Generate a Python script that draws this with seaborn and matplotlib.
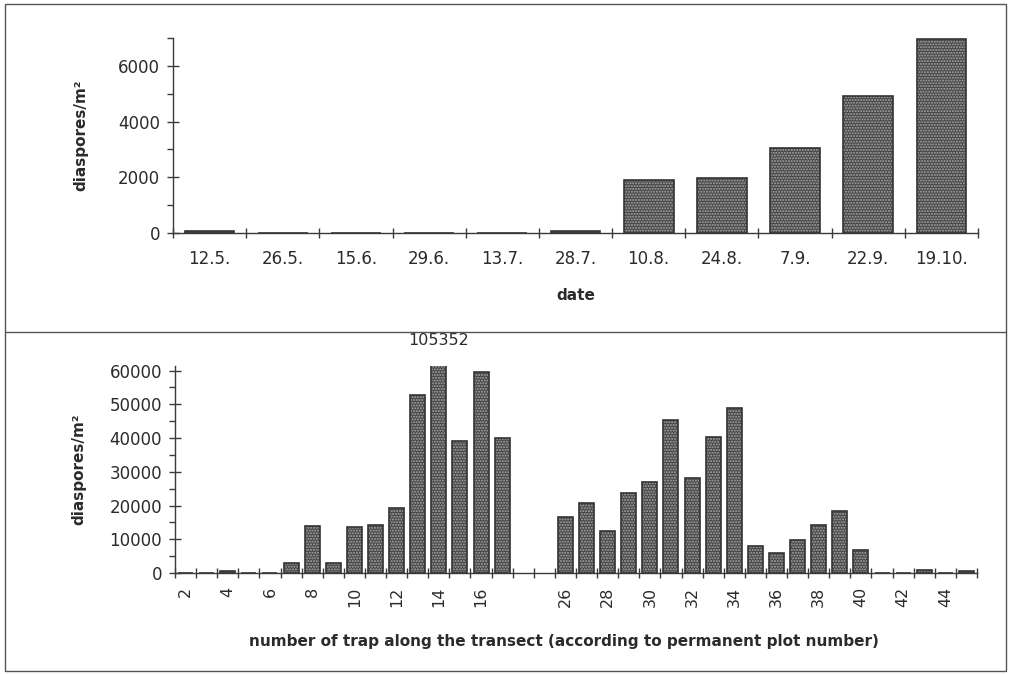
import matplotlib
matplotlib.use("Agg")
import matplotlib.pyplot as plt
from matplotlib.patches import Rectangle
from matplotlib.lines import Line2D
from matplotlib.ticker import MultipleLocator, FixedLocator
import pandas as pd
import seaborn as sns

# Seasonal catch: diaspores per m² on each sampling date
dates = ["12.5.", "26.5.", "15.6.", "29.6.", "13.7.", "28.7.",
         "10.8.", "24.8.", "7.9.", "22.9.", "19.10."]
date_counts = [80, 0, 0, 0, 0, 60, 1920, 1980, 3060, 4920, 6970]

# Catch per trap along the transect (permanent plot numbers)
traps_west = list(range(2, 18))
counts_west = [0, 0, 500, 0, 0, 3000, 13800, 3000, 13500, 14300,
               19300, 52700, 105352, 39200, 59500, 40100]
traps_east = list(range(26, 46))
counts_east = [16500, 20700, 12500, 23800, 27000, 45200, 28100, 40400,
               48800, 8000, 6000, 9700, 14100, 18500, 6900, 0, 0, 900, 0, 500]
gap_slots = ["gap1", "gap2"]          # empty slots marking the break in the transect
trap_tick_labels = [2, 4, 6, 8, 10, 12, 14, 16, 26, 28, 30, 32, 34, 36, 38, 40, 42, 44]
peak_trap = 14                        # bar that runs off the scale
peak_value = 105352

INK = "#2b2b2b"
AXIS = "#3a3a3a"
BAR_DARK = "#454545"
BAR_DOTS = "#a9a9a9"

sns.set_style("ticks")
plt.rcParams.update({
    "font.family": ["DejaVu Sans"],
    "text.color": INK,
    "axes.labelcolor": INK,
    "xtick.color": AXIS,
    "ytick.color": AXIS,
    "xtick.labelcolor": INK,
    "ytick.labelcolor": INK,
    "axes.edgecolor": AXIS,
    "axes.linewidth": 1.0,
    "hatch.linewidth": 1.0,
})


def stippled_bars(ax, data, x, y, order, width):
    # dark fill with a fine light dot pattern, then a crisp outline on top
    sns.barplot(data=data, x=x, y=y, order=order, width=width, color=BAR_DARK,
                saturation=1, edgecolor=BAR_DOTS, linewidth=0, hatch="......",
                errorbar=None, ax=ax)
    sns.barplot(data=data, x=x, y=y, order=order, width=width, fill=False,
                color="#333333", linewidth=1.2, errorbar=None, ax=ax)


fig = plt.figure(figsize=(10.11, 6.74), dpi=100)

# ---------- upper panel: sampling dates ----------
ax1 = fig.add_axes([173 / 1011, 1 - 233 / 674, 805 / 1011, 195 / 674])
df_dates = pd.DataFrame({"date": dates, "diaspores": date_counts})
stippled_bars(ax1, df_dates, "date", "diaspores", dates, 0.68)
ax1.set_xlim(-0.5, len(dates) - 0.5)
ax1.set_ylim(0, 7000)
ax1.yaxis.set_major_locator(MultipleLocator(2000))
ax1.yaxis.set_minor_locator(MultipleLocator(1000))
ax1.tick_params(axis="y", which="major", direction="inout", length=8.5, width=1,
                labelsize=12, pad=5)
ax1.tick_params(axis="y", which="minor", direction="out", length=4.5, width=1)
ax1.xaxis.set_minor_locator(FixedLocator([i - 0.5 for i in range(len(dates) + 1)]))
ax1.tick_params(axis="x", which="minor", direction="inout", length=6.5, width=1)
ax1.tick_params(axis="x", which="major", length=0, labelsize=12, pad=12)
ax1.set_xlabel("date", fontsize=11, fontweight="bold", va="top")
ax1.xaxis.set_label_coords(0.5, -0.28)
ax1.set_ylabel("diaspores/m²", fontsize=11, fontweight="bold")
ax1.yaxis.set_label_coords(-0.105, 0.5)
sns.despine(ax=ax1)

# ---------- lower panel: traps along the transect ----------
ax2 = fig.add_axes([175 / 1011, 1 - 573 / 674, 802 / 1011, 207.5 / 674])
trap_order = [str(t) for t in traps_west] + gap_slots + [str(t) for t in traps_east]
df_traps = pd.DataFrame({
    "trap": [str(t) for t in traps_west + traps_east],
    "diaspores": counts_west + counts_east,
})
stippled_bars(ax2, df_traps, "trap", "diaspores", trap_order, 0.71)
ax2.set_xlim(-0.5, len(trap_order) - 0.5)
ax2.set_ylim(0, 61500)
ax2.yaxis.set_major_locator(MultipleLocator(10000))
ax2.yaxis.set_minor_locator(MultipleLocator(5000))
ax2.tick_params(axis="y", which="major", direction="inout", length=8.5, width=1,
                labelsize=12, pad=5)
ax2.tick_params(axis="y", which="minor", direction="out", length=4.5, width=1)
ax2.xaxis.set_minor_locator(FixedLocator([i - 0.5 for i in range(len(trap_order) + 1)]))
ax2.tick_params(axis="x", which="minor", direction="inout", length=6.5, width=1)
label_pos = [trap_order.index(str(t)) for t in trap_tick_labels]
ax2.set_xticks(label_pos)
ax2.set_xticklabels([str(t) for t in trap_tick_labels], rotation=90)
ax2.tick_params(axis="x", which="major", length=0, labelsize=11.5, pad=10)
ax2.set_xlabel("number of trap along the transect (according to permanent plot number)",
               fontsize=11, fontweight="bold", va="top")
ax2.xaxis.set_label_coords(0.485, -0.295)
ax2.set_ylabel("diaspores/m²", fontsize=11, fontweight="bold")
ax2.yaxis.set_label_coords(-0.11, 0.5)
sns.despine(ax=ax2)

# value of the off-scale bar, printed above it
ax2.text(trap_order.index(str(peak_trap)), 1.12, f"{peak_value}",
         transform=ax2.get_xaxis_transform(), ha="center", va="center",
         fontsize=11.5, color=INK)

# ---------- frame around both panels ----------
fig.add_artist(Rectangle((5 / 1011, 1 - 671 / 674), 1001 / 1011, 667 / 674,
                         transform=fig.transFigure, fill=False,
                         edgecolor="#555555", linewidth=1.0))
fig.add_artist(Line2D([5 / 1011, 1006 / 1011], [1 - 332 / 674, 1 - 332 / 674],
                      transform=fig.transFigure, color="#555555", linewidth=1.0))

fig.savefig("out.png", dpi=100, facecolor="white")
